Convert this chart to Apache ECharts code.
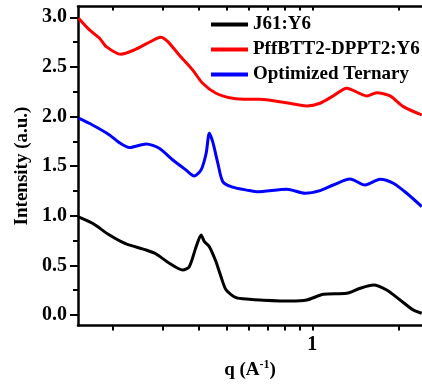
<!DOCTYPE html>
<html>
<head>
<meta charset="utf-8">
<script src="https://cdn.jsdelivr.net/npm/echarts@6/dist/echarts.min.js"></script>
<style>html,body{margin:0;padding:0;background:#fff}#c{width:422px;height:387px}</style>
</head>
<body>
<div id="c"></div>
<script>
// q values (A^-1) and intensities
const seriesNames = ['J61:Y6', 'PffBTT2-DPPT2:Y6', 'Optimized Ternary'];
const blackQ = [0.151,0.170,0.195,0.223,0.262,0.284,0.316,0.352,0.371,0.392,0.408,0.419,0.436,0.460,0.479,0.499,0.541,0.602,0.656,0.835,0.956,1.093,1.319,1.469,1.635,1.821,2.028,2.257,2.415];
const blackI = [0.991,0.924,0.806,0.716,0.655,0.615,0.521,0.454,0.487,0.688,0.806,0.739,0.688,0.537,0.386,0.252,0.174,0.158,0.151,0.141,0.151,0.208,0.218,0.269,0.302,0.252,0.151,0.050,0.017];
const redQ = [0.152,0.166,0.180,0.190,0.214,0.238,0.265,0.295,0.312,0.342,0.381,0.413,0.460,0.526,0.602,0.656,0.791,0.956,1.064,1.184,1.319,1.550,1.680,1.871,2.082,2.415];
const redI = [2.991,2.873,2.789,2.705,2.628,2.671,2.739,2.799,2.755,2.621,2.470,2.335,2.235,2.184,2.174,2.174,2.144,2.107,2.134,2.208,2.285,2.208,2.241,2.208,2.100,2.016];
const blueQ = [0.152,0.170,0.195,0.211,0.229,0.262,0.291,0.325,0.361,0.386,0.408,0.425,0.436,0.448,0.467,0.486,0.526,0.602,0.639,0.814,0.943,1.064,1.184,1.355,1.529,1.726,1.920,2.140,2.415];
const blueI = [1.983,1.915,1.815,1.737,1.687,1.724,1.680,1.562,1.462,1.401,1.462,1.630,1.832,1.747,1.529,1.344,1.288,1.254,1.242,1.267,1.227,1.253,1.310,1.371,1.310,1.368,1.328,1.227,1.093];
const yLabelValues = [0, 0.5, 1.0, 1.5, 2.0, 2.5, 3.0];
const yMinorValues = [0.25, 0.75, 1.25, 1.75, 2.25, 2.75];
const xTickQ = [0.2, 0.3, 0.4, 0.5, 0.6, 0.7, 0.8, 0.9, 1, 2];
const xLabelQ = [1];
const qMin = 0.1513, qMax = 2.42;

const L = Math.log10;
const toPts = (qs, is) => qs.map((q, i) => [L(q), is[i]]);
const font = '"Liberation Serif", "Times New Roman", serif';
const chart = echarts.init(document.getElementById('c'));
const lineStyleAxis = { color: '#000', width: 2.5 };
const colors = ['#000000', '#ff0000', '#0000ff'];
const data = [toPts(blackQ, blackI), toPts(redQ, redI), toPts(blueQ, blueI)];

chart.setOption({
  animation: false,
  grid: { left: 78, right: 0, top: 6.5, bottom: 61.5, containLabel: false },
  legend: {
    orient: 'vertical', left: 211, top: 15, itemGap: 6, padding: 0,
    icon: 'rect', itemWidth: 37, itemHeight: 4,
    textStyle: { fontFamily: font, fontWeight: 'bold', fontSize: 19, lineHeight: 19, color: '#000' },
    data: seriesNames
  },
  xAxis: [{
    type: 'value', position: 'bottom', min: L(qMin), max: L(qMax),
    axisLine: { onZero: false, lineStyle: lineStyleAxis },
    splitLine: { show: false },
    axisTick: { customValues: xTickQ.map(L), length: 5, inside: false, lineStyle: { color: '#000', width: 2 } },
    axisLabel: { customValues: xLabelQ.map(L), formatter: v => String(Math.round(Math.pow(10, v))), margin: 9,
      fontFamily: font, fontWeight: 'bold', fontSize: 20, color: '#000' },
    name: '{a|q (A}{s|-1}{a|)}', nameLocation: 'middle', nameGap: 31,
    nameTextStyle: { rich: {
      a: { fontFamily: font, fontWeight: 'bold', fontSize: 19, color: '#000', verticalAlign: 'bottom' },
      s: { fontFamily: font, fontWeight: 'bold', fontSize: 12, color: '#000', verticalAlign: 'top', padding: [0, 0, 8, 0] }
    } }
  }, {
    type: 'value', position: 'top', min: L(qMin), max: L(qMax),
    axisLine: { onZero: false, lineStyle: lineStyleAxis },
    splitLine: { show: false },
    axisTick: { customValues: xTickQ.map(L), length: 4, inside: true, lineStyle: { color: '#000', width: 2 } },
    axisLabel: { show: false }
  }],
  yAxis: [{
    type: 'value', position: 'left', min: -0.106, max: 3.109,
    axisLine: { show: true, onZero: false, lineStyle: lineStyleAxis },
    splitLine: { show: false },
    axisTick: { customValues: yLabelValues, length: 8, lineStyle: { color: '#000', width: 2 } },
    axisLabel: { customValues: yLabelValues, formatter: v => v.toFixed(1), margin: 11,
      fontFamily: font, fontWeight: 'bold', fontSize: 20, color: '#000' },
    name: 'Intensity (a.u.)', nameLocation: 'middle', nameGap: 46, nameRotate: 90,
    nameTextStyle: { fontFamily: font, fontWeight: 'bold', fontSize: 19, color: '#000' }
  }, {
    type: 'value', position: 'left', min: -0.106, max: 3.109,
    axisLine: { show: false, onZero: false },
    splitLine: { show: false },
    axisTick: { customValues: yMinorValues, length: 5, lineStyle: { color: '#000', width: 2 } },
    axisLabel: { show: false }
  }],
  series: seriesNames.map((n, i) => ({
    name: n, type: 'line', xAxisIndex: 0, yAxisIndex: 0,
    data: data[i], showSymbol: false, symbol: 'none', smooth: 0.25,
    itemStyle: { color: colors[i] },
    lineStyle: { color: colors[i], width: 3 }
  }))
});
</script>
</body>
</html>
